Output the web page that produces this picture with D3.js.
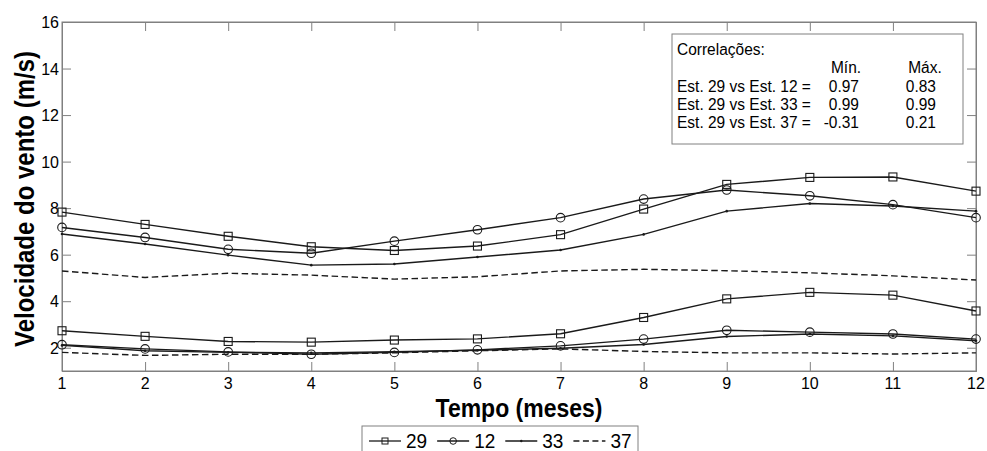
<!DOCTYPE html>
<html>
<head>
<meta charset="utf-8">
<script src="https://cdn.jsdelivr.net/npm/d3@7"></script>
<style>
    body { margin: 0; background: #fff; }
    text { font-family: "Liberation Sans", Arial, sans-serif; fill: #000; }
</style>
</head>
<body>
<div id="chart"></div>
<script>

// months on the x axis
const months = [1, 2, 3, 4, 5, 6, 7, 8, 9, 10, 11, 12];
const yTicks = [2, 4, 6, 8, 10, 12, 14, 16];

// upper group of curves (máx.)
const est29Max = [7.83, 7.30, 6.79, 6.34, 6.18, 6.37, 6.86, 7.96, 9.02, 9.32, 9.34, 8.73];
const est12Max = [7.17, 6.74, 6.23, 6.06, 6.58, 7.07, 7.59, 8.39, 8.78, 8.53, 8.15, 7.59];
const est33Max = [6.89, 6.46, 5.98, 5.55, 5.60, 5.90, 6.20, 6.87, 7.87, 8.20, 8.09, 7.87];
const est37Max = [5.30, 5.02, 5.20, 5.12, 4.95, 5.05, 5.30, 5.37, 5.31, 5.22, 5.09, 4.91];

// lower group of curves (mín.)
const est29Min = [2.73, 2.49, 2.27, 2.24, 2.33, 2.38, 2.60, 3.30, 4.10, 4.38, 4.26, 3.58];
const est12Min = [2.13, 1.95, 1.82, 1.72, 1.80, 1.91, 2.08, 2.37, 2.75, 2.67, 2.59, 2.37];
const est33Min = [2.10, 1.87, 1.80, 1.78, 1.83, 1.89, 1.98, 2.14, 2.48, 2.59, 2.51, 2.30];
const est37Min = [1.80, 1.67, 1.72, 1.72, 1.78, 1.87, 1.95, 1.84, 1.78, 1.78, 1.73, 1.78];

// correlation table
const corrRows = ["Est. 29 vs Est. 12 =", "Est. 29 vs Est. 33 =", "Est. 29 vs Est. 37 ="];
const corrMin = ["0.97", "0.99", "-0.31"];
const corrMax = ["0.83", "0.99", "0.21"];

const stations = ["29", "12", "33", "37"];
const markers = {"29": "square", "12": "circle", "33": "dot", "37": "none"};

const series = [
    {station: "29", values: est29Max}, {station: "12", values: est12Max},
    {station: "33", values: est33Max}, {station: "37", values: est37Max},
    {station: "29", values: est29Min}, {station: "12", values: est12Min},
    {station: "33", values: est33Min}, {station: "37", values: est37Min}
];

const width = 987, height = 451;
const margin = {top: 22, right: 11, bottom: 80, left: 62};
const axisColor = '#808080';
const lineColor = '#1a1a1a';

const svg = d3.select('#chart').append('svg')
    .attr('width', width)
    .attr('height', height);

const x = d3.scaleLinear().domain([1, 12]).range([margin.left, width - margin.right]);
const y = d3.scaleLinear().domain([1, 16]).range([height - margin.bottom, margin.top]);

// text is slightly taller than normal in the original picture
function tallText(parent, tx, ty, str, size, opts = {}) {
    let g = parent.append('g')
        .attr('transform', `translate(${tx}, ${ty}) ${opts.rotate ? 'rotate(' + opts.rotate + ')' : ''} scale(1, ${opts.sy || 1.1})`);
    return g.append('text')
        .attr('text-anchor', opts.anchor || 'start')
        .style('font-size', size + 'px')
        .style('font-weight', opts.bold ? 'bold' : 'normal')
        .text(str);
}

// axes, ticks pointing inward like matlab
let tick = 9;
svg.append('g')
    .attr('transform', `translate(0, ${y(1)})`)
    .call(d3.axisTop(x).tickValues(months).tickSize(tick).tickFormat(''));
svg.append('g')
    .attr('transform', `translate(0, ${y(16)})`)
    .call(d3.axisBottom(x).tickValues(months).tickSize(tick).tickFormat(''));
svg.append('g')
    .attr('transform', `translate(${x(1)}, 0)`)
    .call(d3.axisRight(y).tickValues(yTicks).tickSize(tick).tickFormat(''));
svg.append('g')
    .attr('transform', `translate(${x(12)}, 0)`)
    .call(d3.axisLeft(y).tickValues(yTicks).tickSize(tick).tickFormat(''));

svg.selectAll('.domain, .tick line')
    .attr('stroke', axisColor)
    .attr('stroke-width', 1);

// frame
svg.append('rect')
    .attr('x', x(1))
    .attr('y', y(16))
    .attr('width', x(12) - x(1))
    .attr('height', y(1) - y(16))
    .attr('fill', 'none')
    .attr('stroke', axisColor);

// tick labels
svg.selectAll('.x-label')
    .data(months)
    .enter()
    .append('text')
    .attr('class', 'x-label')
    .attr('x', d => x(d))
    .attr('y', y(1) + 18)
    .attr('text-anchor', 'middle')
    .style('font-size', '16px')
    .text(d => d);

svg.selectAll('.y-label')
    .data(yTicks)
    .enter()
    .append('text')
    .attr('class', 'y-label')
    .attr('x', x(1) - 3)
    .attr('y', d => y(d) + 6)
    .attr('text-anchor', 'end')
    .style('font-size', '16px')
    .text(d => d);

// axis titles
tallText(svg, (x(1) + x(12)) / 2, 417, 'Tempo (meses)', 23, {anchor: 'middle', bold: true, sy: 1.1});
tallText(svg, 34, 199, 'Velocidade do vento (m/s)', 24, {anchor: 'middle', bold: true, rotate: -90, sy: 1.12});

// lines
const line = d3.line()
    .x((d, i) => x(months[i]))
    .y(d => y(d));

function drawMarker(g, type, cx, cy) {
    if (type === 'square') {
        g.append('rect')
            .attr('x', cx - 4).attr('y', cy - 4)
            .attr('width', 8).attr('height', 8)
            .attr('fill', 'none')
            .attr('stroke', lineColor)
            .attr('stroke-width', 1.1);
    } else if (type === 'circle') {
        g.append('circle')
            .attr('cx', cx).attr('cy', cy).attr('r', 4.3)
            .attr('fill', 'none')
            .attr('stroke', lineColor)
            .attr('stroke-width', 1.1);
    } else if (type === 'dot') {
        g.append('circle')
            .attr('cx', cx).attr('cy', cy).attr('r', 1.3)
            .attr('fill', lineColor);
    }
}

series.forEach(s => {
    let g = svg.append('g');
    g.append('path')
        .datum(s.values)
        .attr('d', line)
        .attr('fill', 'none')
        .attr('stroke', lineColor)
        .attr('stroke-width', 1.4)
        .attr('stroke-dasharray', s.station === '37' ? '6.5,3.5' : null);
    s.values.forEach((v, i) => drawMarker(g, markers[s.station], x(months[i]), y(v)));
});

// correlation box
let box = svg.append('g');
box.append('rect')
    .attr('x', 672).attr('y', 34)
    .attr('width', 291).attr('height', 110)
    .attr('fill', '#fff')
    .attr('stroke', axisColor);

tallText(box, 677, 55, 'Correlações:', 15.5);
tallText(box, 846, 73, 'Mín.', 15.5, {anchor: 'middle'});
tallText(box, 925, 73, 'Máx.', 15.5, {anchor: 'middle'});

corrRows.forEach((r, i) => {
    let ty = 91.5 + i * 18.4;
    tallText(box, 677, ty, r, 15.5);
    tallText(box, 859, ty, corrMin[i], 15.5, {anchor: 'end'});
    tallText(box, 936, ty, corrMax[i], 15.5, {anchor: 'end'});
});

// legend at the bottom
let legend = svg.append('g');
legend.append('rect')
    .attr('x', 362).attr('y', 426)
    .attr('width', 276).attr('height', 40)
    .attr('fill', '#fff')
    .attr('stroke', axisColor);

let lx = 369;
stations.forEach(st => {
    let ly = 441;
    legend.append('line')
        .attr('x1', lx).attr('x2', lx + 32)
        .attr('y1', ly).attr('y2', ly)
        .attr('stroke', lineColor)
        .attr('stroke-width', 1.3)
        .attr('stroke-dasharray', st === '37' ? '6,3.5' : null);
    let gm = legend.append('g');
    if (markers[st] === 'square') {
        gm.append('rect').attr('x', lx + 16 - 3).attr('y', ly - 3)
            .attr('width', 6).attr('height', 6)
            .attr('fill', 'none').attr('stroke', lineColor);
    } else if (markers[st] === 'circle') {
        gm.append('circle').attr('cx', lx + 16).attr('cy', ly).attr('r', 3.3)
            .attr('fill', 'none').attr('stroke', lineColor);
    } else if (markers[st] === 'dot') {
        gm.append('circle').attr('cx', lx + 16).attr('cy', ly).attr('r', 1.2)
            .attr('fill', lineColor);
    }
    let t = tallText(legend, lx + 37, ly + 7, st, 19, {sy: 1.08});
    lx += 37 + t.node().getComputedTextLength() + 10;
});

</script>
</body>
</html>
